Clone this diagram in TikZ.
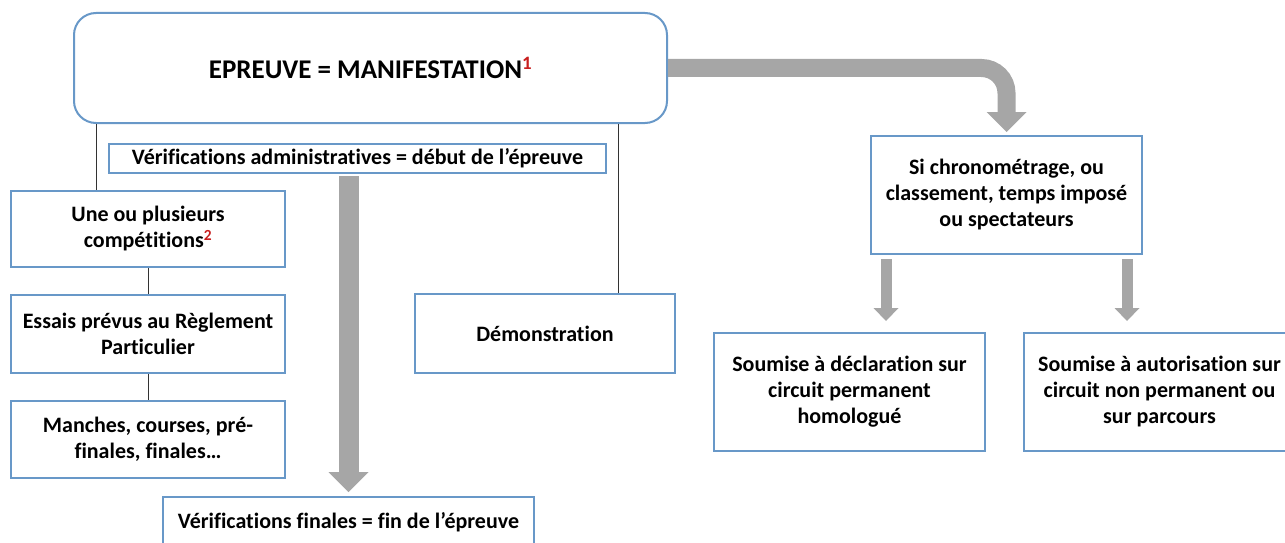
\documentclass[tikz,border=0pt]{standalone}
\usepackage{fontspec}
\setmainfont{Carlito}[Ligatures=CommonOff]
\usetikzlibrary{positioning, arrows.meta, calc}
\definecolor{boxblue}{RGB}{104,152,200}
\definecolor{arrowgrey}{RGB}{166,166,166}
\definecolor{notered}{RGB}{200,30,30}

\begin{document}
\begin{tikzpicture}[x=1pt,y=-1pt,font=\fontsize{22}{26}\selectfont\bfseries,box/.style={draw=boxblue,line width=2pt,fill=white,align=center,inner sep=0pt},bigarrow/.style={draw=arrowgrey,line width=20pt,-{Triangle[width=40pt,length=20pt,line width=0pt]}},smallarrow/.style={draw=arrowgrey,line width=11pt,-{Triangle[width=25pt,length=13pt,line width=0pt]}},link/.style={draw=black!80,line width=1pt}]

\useasboundingbox (0,0) rectangle (1285,543);
\clip (0,0) rectangle (1285,543);

% Event
\node[box,rounded corners=22pt,minimum width=593pt,minimum height=110pt,font=\fontsize{27}{30}\selectfont\bfseries] (manifestation) at (370.5,68) {EPREUVE = MANIFESTATION\textsuperscript{\color{notered}1}};
\node[box,minimum width=497pt,minimum height=29pt] (verif_admin) at (357.5,158.5) {Vérifications administratives = début de l’épreuve};
\node[box,minimum width=371pt,minimum height=50pt] (verif_finales) at (348.5,522) {Vérifications finales = fin de l’épreuve};

% Left column
\node[box,minimum width=274pt,minimum height=76pt] (competitions) at (148,229) {Une ou plusieurs\\compétitions\textsuperscript{\color{notered}2}};
\node[box,minimum width=274pt,minimum height=78pt] (essais) at (148,334) {Essais prévus au Règlement\\Particulier};
\node[box,minimum width=274pt,minimum height=77pt] (manches) at (148,439.5) {Manches, courses, pré-\\finales, finales…};
\node[box,minimum width=260pt,minimum height=79pt] (demonstration) at (545,333.5) {Démonstration};

% Right part
\node[box,minimum width=271pt,minimum height=118pt] (chronometrage) at (1006.5,195) {Si chronométrage, ou\\classement, temps imposé\\ou spectateurs};
\node[box,minimum width=271pt,minimum height=118pt] (declaration) at (849.5,392) {Soumise à déclaration sur\\circuit permanent\\homologué};
\node[box,minimum width=271pt,minimum height=118pt] (autorisation) at (1159.5,392) {Soumise à autorisation sur\\circuit non permanent ou\\sur parcours};

% Thin links
\coordinate (left_link) at ([xshift=86pt]competitions.north west);
\coordinate (right_link) at ([xshift=-58pt]demonstration.north east);
\draw[link] (left_link |- manifestation.south) -- (left_link);
\draw[link] (right_link |- manifestation.south) -- (right_link);
\draw[link] (competitions) -- (essais);
\draw[link] (essais) -- (manches);

% Grey arrows
\coordinate (left_drop) at ([xshift=16pt]chronometrage.south west);
\coordinate (right_drop) at ([xshift=-16pt]chronometrage.south east);
\draw[bigarrow,shorten <=2pt,shorten >=4pt] (verif_finales.north |- verif_admin.south) -- (verif_finales.north);
\draw[bigarrow,line width=18pt,rounded corners=25pt,shorten >=3pt] (manifestation.east) -- (chronometrage.north |- manifestation.east) -- (chronometrage.north);
\draw[smallarrow,shorten <=4pt,shorten >=11pt] (left_drop) -- (left_drop |- declaration.north);
\draw[smallarrow,shorten <=4pt,shorten >=11pt] (right_drop) -- (right_drop |- autorisation.north);
\end{tikzpicture}
\end{document}
